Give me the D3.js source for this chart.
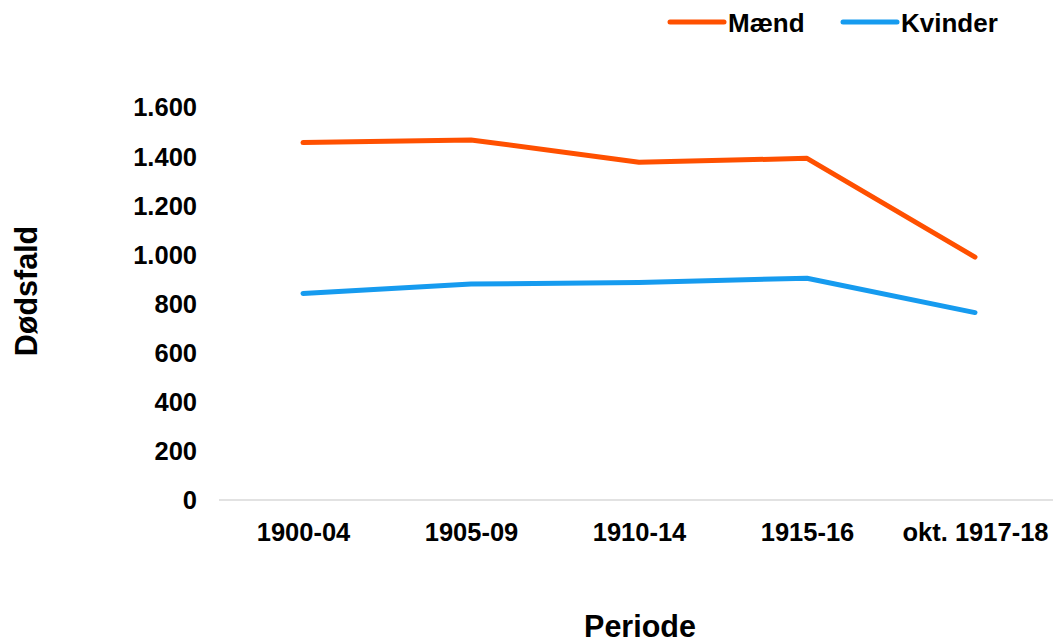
<!DOCTYPE html>
<html>
<head>
<meta charset="utf-8">
<script src="https://cdn.jsdelivr.net/npm/d3@7"></script>
<style>
  body { margin: 0; background: #fff; }
  text { font-family: "Liberation Sans", Arial, sans-serif; font-weight: bold; fill: #000; }
</style>
</head>
<body>
<svg id="chart" width="1053" height="642"></svg>
<script>
const categories = ["1900-04", "1905-09", "1910-14", "1915-16", "okt. 1917-18"];
const maend = [1455, 1466, 1375, 1391, 989];
const kvinder = [841, 879, 886, 903, 763];
const yTicks = [0, 200, 400, 600, 800, 1000, 1200, 1400, 1600];
const seriesNames = ["Mænd", "Kvinder"];
const seriesColors = ["#FF5000", "#169BEF"];

const svg = d3.select("#chart");
const x = d3.scalePoint().domain(categories).range([219, 1059]).padding(0.5);
const y = d3.scaleLinear().domain([0, 1600]).range([500, 107]);
const fmt = d3.formatLocale({decimal: ",", thousands: ".", grouping: [3], currency: ["", " kr."]}).format(",d");

// baseline
svg.append("line").attr("x1", 219).attr("x2", 1060)
  .attr("y1", y(0)).attr("y2", y(0))
  .attr("stroke", "#d9d9d9").attr("stroke-width", 1.5);

// y tick labels
const yAxis = d3.axisLeft(y).tickValues(yTicks).tickFormat(fmt).tickSize(0).tickPadding(0);
const gy = svg.append("g").attr("transform", "translate(197,0)").call(yAxis);
gy.select(".domain").remove();
gy.selectAll("text").attr("font-size", 25.5).attr("font-family", "Liberation Sans, Arial, sans-serif")
  .attr("font-weight", "bold").attr("fill", "#000").attr("dy", "0.35em");

// x tick labels
const xAxis = d3.axisBottom(x).tickSize(0).tickPadding(0);
const gx = svg.append("g").attr("transform", "translate(0,523)").call(xAxis);
gx.select(".domain").remove();
gx.selectAll("text").attr("font-size", 25.5).attr("font-family", "Liberation Sans, Arial, sans-serif")
  .attr("font-weight", "bold").attr("fill", "#000").attr("dy", "0.71em");

// lines
const line = d3.line().x((d, i) => x(categories[i])).y(d => y(d));
[maend, kvinder].forEach((s, k) => {
  svg.append("path").datum(s).attr("d", line)
    .attr("fill", "none").attr("stroke", seriesColors[k])
    .attr("stroke-width", 5).attr("stroke-linejoin", "round").attr("stroke-linecap", "round");
});

// axis titles
svg.append("text").attr("x", 640).attr("y", 637).attr("text-anchor", "middle")
  .attr("font-size", 30.5).text("Periode");
svg.append("text").attr("transform", "translate(37,291) rotate(-90)").attr("text-anchor", "middle")
  .attr("font-size", 30.5).text("Dødsfald");

// legend
const legendX = [670, 843];
seriesNames.forEach((n, k) => {
  svg.append("line").attr("x1", legendX[k]).attr("x2", legendX[k] + 54)
    .attr("y1", 22).attr("y2", 22).attr("stroke", seriesColors[k])
    .attr("stroke-width", 5).attr("stroke-linecap", "round");
  svg.append("text").attr("x", legendX[k] + 58).attr("y", 32)
    .attr("font-size", 26).text(n);
});
</script>
</body>
</html>
